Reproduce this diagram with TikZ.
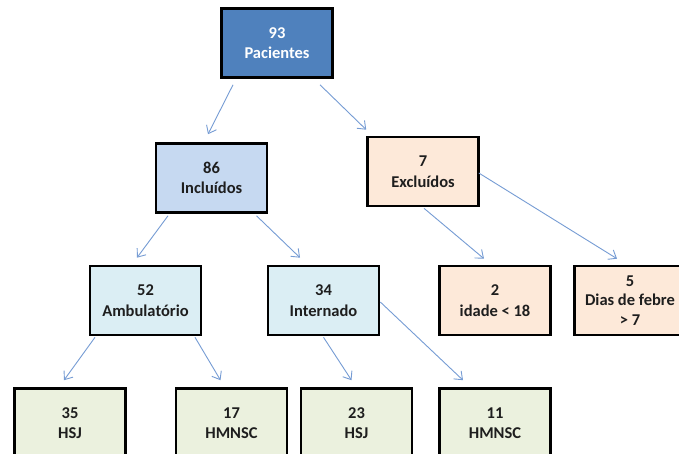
\documentclass[tikz,border=0pt]{standalone}
\usepackage{fontspec}
\setmainfont{Carlito}
\usetikzlibrary{arrows.meta,calc}
\definecolor{arrowblue}{RGB}{118,156,212}
\definecolor{topblue}{RGB}{79,129,189}
\definecolor{lightblue}{RGB}{198,217,241}
\definecolor{peach}{RGB}{253,233,217}
\definecolor{aqua}{RGB}{219,238,244}
\definecolor{lgreen}{RGB}{235,241,222}
\definecolor{textdark}{RGB}{30,30,30}
\begin{document}
\begin{tikzpicture}[x=1pt,y=-1pt,
  box/.style={draw=black,line width=2.6pt,minimum width=111pt,minimum height=69pt,inner sep=2pt,align=center,
    font=\bfseries\fontsize{16.5}{20.5}\selectfont,text=textdark},
  arr/.style={draw=arrowblue,line width=0.9pt,-{Straight Barb[length=7pt,width=11pt,line width=0.9pt]}}]
\useasboundingbox (0,0) rectangle (679,454);
\clip (0,0) rectangle (679,454);
\fill[white] (0,0) rectangle (679,454);
% nodes
\node[box,fill=topblue,text=white] (P) at (277,43) {93\\Pacientes};
\node[box,fill=lightblue] (I) at (211.5,178) {86\\Incluídos};
\node[box,fill=peach] (E) at (423,171.5) {7\\Excluídos};
\node[box,fill=aqua] (A) at (145.5,300.5) {52\\Ambulatório};
\node[box,fill=aqua] (N) at (323.5,300.5) {34\\Internado};
\node[box,fill=peach] (D) at (495,300.5) {2\\idade < 18};
\node[box,fill=peach,font=\bfseries\fontsize{16.5}{19.5}\selectfont] (F) at (630,300.5) {5\\Dias de febre\\> 7};
\node[box,fill=lgreen] (B1) at (70,423) {35\\HSJ};
\node[box,fill=lgreen] (B2) at (231.5,423) {17\\HMNSC};
\node[box,fill=lgreen] (B3) at (356.5,423) {23\\HSJ};
\node[box,fill=lgreen] (B4) at (495,423) {11\\HMNSC};
% connectors
\draw[arr] ($(P.south)+(-44,6)$) -- ($(I.north)+(-3.5,-8)$);
\draw[arr] ($(P.south)+(43,6)$) -- ($(E.north west)+(0,-6)$);
\draw[arr] ($(I.south)+(-43.5,2)$) -- ($(A.north)+(-8.5,-7)$);
\draw[arr] ($(I.south)+(45,2)$) -- ($(N.north)+(-23.5,-7)$);
\draw[arr] ($(E.south)+(1,1)$) -- ($(D.north)+(-11,-6)$);
\draw[arr] ($(E.east)+(-1,1.5)$) -- ($(F.north)+(-13,-6)$);
\draw[arr] ($(A.south)+(-50.5,1)$) -- ($(B1.north)+(-6,-7)$);
\draw[arr] ($(A.south)+(49.5,1)$) -- ($(B2.north)+(-11,-7)$);
\draw[arr] ($(N.south)+(0,1)$) -- ($(B3.north)+(-5,-7)$);
\draw[arr] ($(N.east)+(0,1.5)$) -- ($(B4.north)+(-32,-7)$);
\end{tikzpicture}
\end{document}
